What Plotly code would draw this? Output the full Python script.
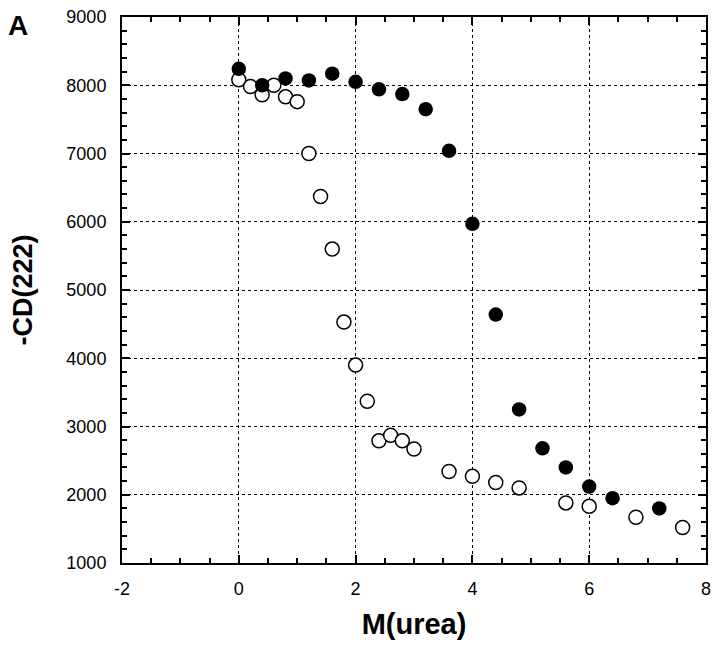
import plotly.graph_objects as go

x_filled = [0, 0.4, 0.8, 1.2, 1.6, 2.0, 2.4, 2.8, 3.2, 3.6, 4.0, 4.4, 4.8, 5.2, 5.6, 6.0, 6.4, 7.2]
y_filled = [8240, 8000, 8100, 8070, 8170, 8050, 7940, 7870, 7650, 7040, 5970, 4640, 3250, 2680, 2400, 2120, 1950, 1800]

x_open = [0, 0.2, 0.4, 0.6, 0.8, 1.0, 1.2, 1.4, 1.6, 1.8, 2.0, 2.2, 2.4, 2.6, 2.8, 3.0, 3.6, 4.0, 4.4, 4.8, 5.6, 6.0, 6.8, 7.6]
y_open = [8080, 7980, 7860, 8000, 7830, 7760, 7000, 6370, 5600, 4530, 3900, 3370, 2790, 2870, 2790, 2670, 2340, 2270, 2180, 2100, 1880, 1830, 1670, 1520]

x_ticks = [-2, 0, 2, 4, 6, 8]
x_ticklabels = ["-2", "0", "2", "4", "6", "8"]
y_ticks = [1000, 2000, 3000, 4000, 5000, 6000, 7000, 8000, 9000]
y_ticklabels = ["1000", "2000", "3000", "4000", "5000", "6000", "7000", "8000", "9000"]

FONT = "Liberation Sans, Arial, Helvetica, sans-serif"

fig = go.Figure()
fig.add_trace(go.Scatter(x=x_open, y=y_open, mode="markers",
                         marker=dict(symbol="circle", size=14, color="white",
                                     line=dict(color="black", width=1.5)),
                         showlegend=False))
fig.add_trace(go.Scatter(x=x_filled, y=y_filled, mode="markers",
                         marker=dict(symbol="circle", size=14.5, color="black",
                                     line=dict(color="black", width=0)),
                         showlegend=False))

axis_common = dict(
    showline=True, linecolor="black", linewidth=2, mirror="ticks",
    ticks="inside", ticklen=8, tickwidth=2, tickcolor="black",
    showgrid=True, gridcolor="black", gridwidth=1, griddash="dot",
    zeroline=False, automargin=False, ticklabeloverflow="allow",
    tickfont=dict(family=FONT, size=18, color="black"),
)

fig.update_xaxes(range=[-2, 8], tickmode="array", tickvals=x_ticks, ticktext=x_ticklabels,
                 ticklabelstandoff=8,
                 minor=dict(dtick=0.5, tick0=-2, ticks="inside", ticklen=5, tickwidth=1.5, tickcolor="black", showgrid=False),
                 title=dict(text="<b>M(urea)</b>", font=dict(family=FONT, size=29, color="black"), standoff=16),
                 **axis_common)
fig.update_yaxes(range=[1000, 9000], tickmode="array", tickvals=y_ticks, ticktext=y_ticklabels,
                 ticklabelstandoff=10,
                 minor=dict(dtick=200, tick0=1000, ticks="inside", ticklen=5, tickwidth=1.5, tickcolor="black", showgrid=False),
                 title=dict(text="<b>-CD(222)</b>", font=dict(family=FONT, size=27, color="black"), standoff=40),
                 **axis_common)

fig.add_annotation(text="<b>A</b>", xref="paper", yref="paper", x=-0.178, y=1.0165,
                   xanchor="center", yanchor="top", showarrow=False,
                   font=dict(family=FONT, size=28, color="black"))

fig.update_layout(width=704, height=633, plot_bgcolor="white", paper_bgcolor="white",
                  margin=dict(l=114, r=6, t=9, b=78))

fig.write_html("out.html")
